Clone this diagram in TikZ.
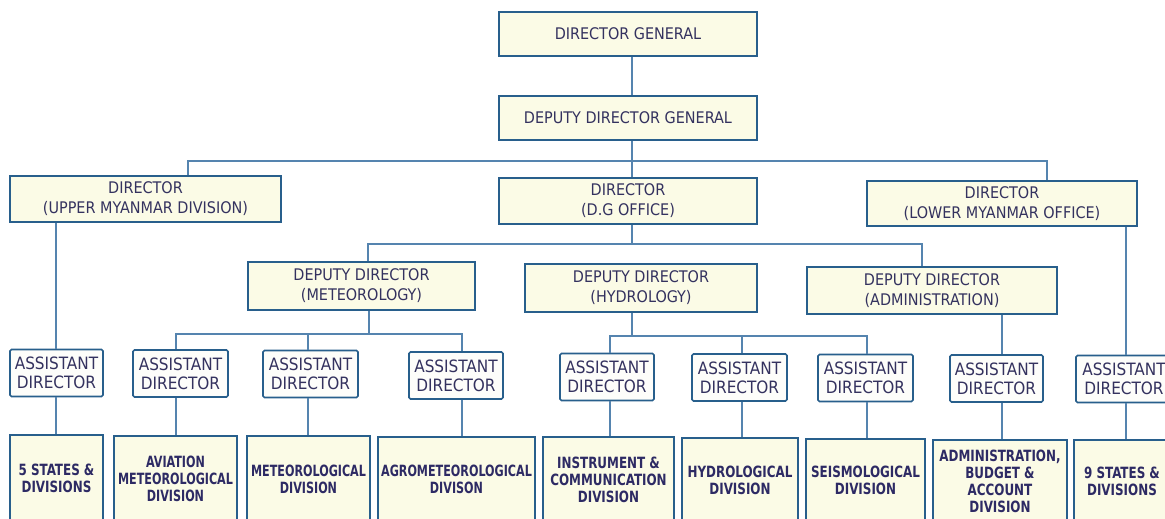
\documentclass[tikz,border=0pt]{standalone}
\usepackage{fontspec}
\setmainfont{DejaVu Sans Condensed}
\newfontfamily\divfont[FakeStretch=0.855]{DejaVu Sans Condensed}
\newfontfamily\divfontn[FakeStretch=0.80]{DejaVu Sans Condensed}
\definecolor{txt}{RGB}{52,50,95}
\definecolor{txtb}{RGB}{45,42,100}
\definecolor{edge}{RGB}{40,95,140}
\definecolor{wire}{RGB}{85,132,175}
\definecolor{paper}{RGB}{251,251,230}
\definecolor{plain}{RGB}{253,253,250}
\tikzset{
  box/.style={draw=edge, line width=1.7pt, fill=paper, inner sep=0pt, align=center,
    text=txt, font=\fontsize{16}{20}\selectfont},
  asst/.style={box, fill=plain, rounded corners=1.5pt, font=\fontsize{17}{19}\selectfont},
  unit/.style={box, text=txtb, font=\divfont\bfseries\fontsize{15.5}{17}\selectfont},
  unitn/.style={unit, font=\divfontn\bfseries\fontsize{15.5}{17}\selectfont},
  link/.style={draw=wire, line width=1.3pt}
}
\begin{document}
\begin{tikzpicture}[x=1pt,y=-1pt]
\useasboundingbox (0,0) rectangle (1165,519);
\fill[white] (0,0) rectangle (1165,519);
\clip (0,0) rectangle (1165,519);

% top of the hierarchy
\node[box, minimum width=258pt, minimum height=44pt] (dg)  at (628,34)  {DIRECTOR GENERAL};
\node[box, minimum width=258pt, minimum height=44pt] (ddg) at (628,118) {DEPUTY DIRECTOR GENERAL};

% directors
\node[box, minimum width=271pt, minimum height=46pt] (up)  at (145.5,199) {DIRECTOR\\(UPPER MYANMAR DIVISION)};
\node[box, minimum width=258pt, minimum height=46pt] (dgo) at (628,201)   {DIRECTOR\\(D.G OFFICE)};
\node[box, minimum width=270pt, minimum height=45pt] (lo)  at (1002,203.5) {DIRECTOR\\(LOWER MYANMAR OFFICE)};

% deputy directors
\node[box, minimum width=227pt, minimum height=48pt] (ddm) at (361.5,286) {DEPUTY DIRECTOR\\(METEOROLOGY)};
\node[box, minimum width=232pt, minimum height=48pt] (ddh) at (641,288)   {DEPUTY DIRECTOR\\(HYDROLOGY)};
\node[box, minimum width=250pt, minimum height=47pt] (dda) at (932,290.5) {DEPUTY DIRECTOR\\(ADMINISTRATION)};

% assistant directors
\foreach \n/\x/\y/\w in {1/56.5/373/93, 2/180.5/373.5/95, 3/310.5/374/95, 4/456/375.5/94,
                          5/607/377/94, 6/739.5/377.5/95, 7/865.5/378/95, 8/996.5/378.5/93, 9/1124/379/96}
  \node[asst, minimum width=\w pt, minimum height=47pt] (ad\n) at (\x,\y) {ASSISTANT\\DIRECTOR};

% divisions
\node[unit,  minimum width=93pt,  minimum height=87pt] (u1) at (56.5,478.5) {5 STATES \&\\DIVISIONS};
\node[unitn, minimum width=123pt, minimum height=86pt] (u2) at (175.5,479)  {AVIATION\\METEOROLOGICAL\\DIVISION};
\node[unitn, minimum width=123pt, minimum height=86pt] (u3) at (308.5,479)  {METEOROLOGICAL\\DIVISION};
\node[unitn, minimum width=157pt, minimum height=85pt] (u4) at (456.5,479.5) {AGROMETEOROLOGICAL\\DIVISON};
\node[unit,  minimum width=131pt, minimum height=85pt] (u5) at (608.5,479.5) {INSTRUMENT \&\\COMMUNICATION\\DIVISION};
\node[unit,  minimum width=116pt, minimum height=84pt] (u6) at (740,480)    {HYDROLOGICAL\\DIVISION};
\node[unit,  minimum width=119pt, minimum height=83pt] (u7) at (865.5,480.5) {SEISMOLOGICAL\\DIVISION};
\node[unit,  minimum width=134pt, minimum height=82pt] (u8) at (1000,481)   {ADMINISTRATION,\\BUDGET \&\\ACCOUNT\\DIVISION};
\node[unit,  minimum width=96pt,  minimum height=82pt] (u9) at (1122,481)   {9 STATES \&\\DIVISIONS};

% connector positions
\coordinate (sp) at (632,0);
\coordinate (busA) at (0,161);
\coordinate (busB) at (0,244);
\coordinate (busM) at (0,334);
\coordinate (busH) at (0,336);
\foreach \n/\x in {1/56, 2/176, 3/308, 4/462, 5/610, 6/742, 7/867, 8/1002, 9/1126}
  \coordinate (c\n) at (\x,0);
\coordinate (cU) at (188,0);
\coordinate (cL) at (1047,0);
\coordinate (cM) at (368,0);
\coordinate (cA) at (922,0);
\coordinate (cMd) at (369,0);

% main spine
\draw[link] (dg.south -| sp) -- (ddg.north -| sp);
\draw[link] (ddg.south -| sp) -- (dgo.north -| sp);
% directors' bus
\draw[link] (up.north -| cU) -- (cU |- busA) -- (cL |- busA) -- (lo.north -| cL);
% deputy directors' bus
\draw[link] (dgo.south -| sp) -- (sp |- busB);
\draw[link] (ddm.north -| cM) -- (cM |- busB) -- (cA |- busB) -- (dda.north -| cA);
% meteorology branch
\draw[link] (ddm.south -| cMd) -- (cMd |- busM);
\draw[link] (ad2.north -| c2) -- (c2 |- busM) -- (c4 |- busM) -- (ad4.north -| c4);
\draw[link] (c3 |- busM) -- (ad3.north -| c3);
% hydrology branch
\draw[link] (ddh.south -| sp) -- (sp |- busH);
\draw[link] (ad5.north -| c5) -- (c5 |- busH) -- (c7 |- busH) -- (ad7.north -| c7);
\draw[link] (c6 |- busH) -- (ad6.north -| c6);
% administration and regional offices
\draw[link] (dda.south -| c8) -- (ad8.north -| c8);
\draw[link] (up.south -| c1) -- (ad1.north -| c1);
\draw[link] (lo.south -| c9) -- (ad9.north -| c9);
% assistant directors to divisions
\foreach \n in {1,...,9}
  \draw[link] (ad\n.south -| c\n) -- (u\n.north -| c\n);
\end{tikzpicture}
\end{document}
